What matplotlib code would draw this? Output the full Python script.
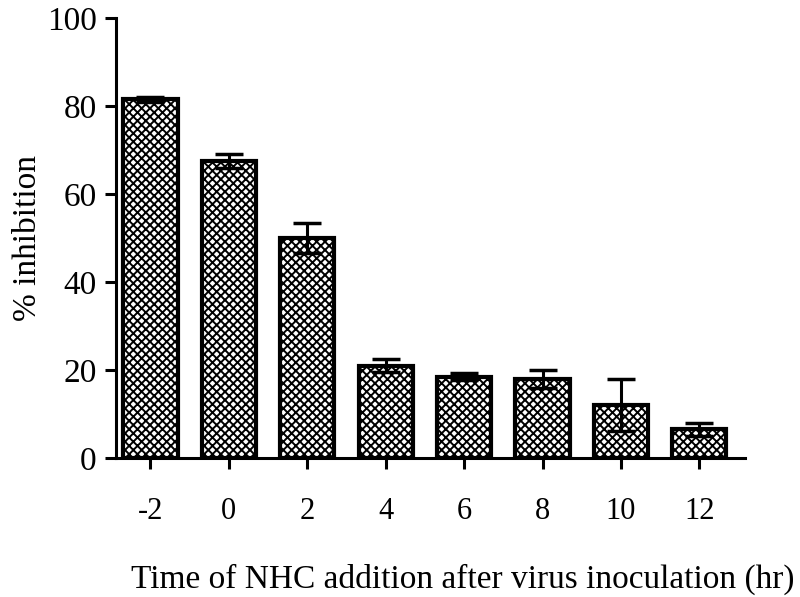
import numpy as np
import matplotlib.pyplot as plt

# time of NHC addition (hr) and % inhibition
times = ['-2', '0', '2', '4', '6', '8', '10', '12']
inhibition = [81.5, 67.5, 50.0, 21.0, 18.5, 18.0, 12.0, 6.5]
err = [0.5, 1.5, 3.5, 1.5, 0.8, 2.0, 6.0, 1.5]

plt.rcParams['font.family'] = ['Liberation Serif', 'DejaVu Serif']
plt.rcParams['hatch.linewidth'] = 1.4

fig = plt.figure(figsize=(8, 5.97), dpi=100)
ax = fig.add_axes([0.145, 0.233, 0.786, 0.737])

x = np.arange(len(times))
ax.bar(x, inhibition, width=0.69, color='white', edgecolor='black',
       hatch='xxxx', linewidth=3, zorder=2)
ax.errorbar(x, inhibition, yerr=err, fmt='none', ecolor='black',
            elinewidth=2.2, capsize=10, capthick=2.5, zorder=3)

ax.set_xlim(-0.44, 7.58)
ax.set_ylim(0, 100)
ax.set_yticks([0, 20, 40, 60, 80, 100])
ax.set_xticks(x)
ax.set_xticklabels(times)

for s in ['top', 'right']:
    ax.spines[s].set_visible(False)
for s in ['left', 'bottom']:
    ax.spines[s].set_linewidth(2.2)

ax.tick_params(axis='y', direction='out', length=8, width=2.2, labelsize=24, pad=6)
ax.tick_params(axis='x', direction='out', length=8, width=2.2, labelsize=22, pad=20)

ax.set_ylabel('% inhibition', fontsize=24, labelpad=3)
ax.set_xlabel('Time of NHC addition after virus inoculation (hr)', fontsize=24, labelpad=27)
ax.xaxis.label.set_x(0.552)

plt.savefig('out.png', dpi=100)
